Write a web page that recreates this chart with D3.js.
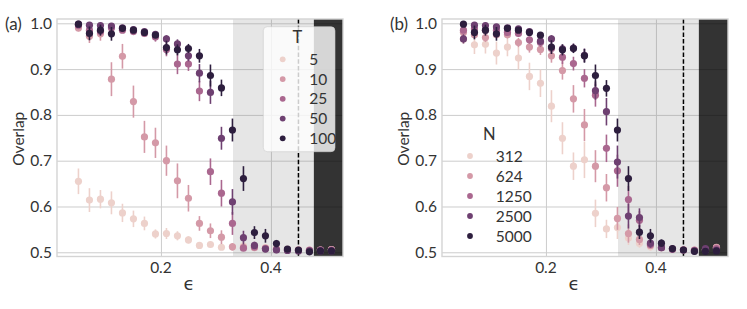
<!DOCTYPE html>
<html>
<head>
<meta charset="utf-8">
<script src="https://cdn.jsdelivr.net/npm/d3@7"></script>
<style>
  body { margin: 0; background: #fff; }
  text { font-family: Lato, "Open Sans", sans-serif; fill: #333333; }
</style>
</head>
<body>
<div id="chart"></div>
<script>
// epsilon values on the x axis
const eps = [0.05, 0.07, 0.09, 0.11, 0.13, 0.15, 0.17, 0.19, 0.21, 0.23, 0.25, 0.27,
             0.29, 0.31, 0.33, 0.35, 0.37, 0.39, 0.41, 0.43, 0.45, 0.47, 0.49, 0.51];

const tLabels = ['5', '10', '25', '50', '100'];
const nLabels = ['312', '624', '1250', '2500', '5000'];
const palette = ['#edd1cb', '#d499a7', '#aa678f', '#6e4071', '#2d1e3e'];

const yTicks = [0.5, 0.6, 0.7, 0.8, 0.9, 1.0];
const xTicks = [0.2, 0.4];

// shaded regions and the dashed marker
const lightStart = 0.331, darkStart = 0.478, dashAt = 0.45;

// panel (a): overlap for several T
const t5 = [0.655, 0.614, 0.616, 0.608, 0.586, 0.573, 0.563, 0.540, 0.541, 0.536, 0.527, 0.515,
            0.517, 0.511, 0.512, 0.514, 0.512, 0.510, 0.508, 0.507, 0.506, 0.505, 0.505, 0.506];
const t5Err = [0.028, 0.026, 0.02, 0.025, 0.02, 0.018, 0.015, 0.01, 0.012, 0.01, 0.008, 0.006,
               0.006, 0.005, 0.005, 0.005, 0.004, 0.004, 0.004, 0.003, 0.003, 0.003, 0.003, 0.003];
const t10 = [0.99, 0.972, 0.977, 0.878, 0.928, 0.829, 0.752, 0.739, 0.700, 0.656, 0.618, 0.563,
             0.547, 0.533, 0.512, 0.511, 0.510, 0.509, 0.507, 0.506, 0.505, 0.505, 0.505, 0.506];
const t10Err = [0.008, 0.015, 0.015, 0.037, 0.027, 0.035, 0.035, 0.033, 0.033, 0.038, 0.029, 0.016,
                0.016, 0.015, 0.008, 0.006, 0.005, 0.005, 0.004, 0.004, 0.003, 0.003, 0.003, 0.003];
const t25 = [0.995, 0.985, 0.982, 0.99, 0.985, 0.982, 0.978, 0.970, 0.943, 0.911, 0.911, 0.852,
             0.676, 0.629, 0.563, 0.509, 0.512, 0.508, 0.506, 0.505, 0.504, 0.504, 0.505, 0.505];
const t25Err = [0.004, 0.006, 0.006, 0.005, 0.006, 0.006, 0.008, 0.01, 0.015, 0.022, 0.015, 0.022,
                0.029, 0.029, 0.025, 0.006, 0.005, 0.004, 0.003, 0.003, 0.003, 0.003, 0.003, 0.003];
const t50 = [0.998, 0.996, 0.995, 0.994, 0.990, 0.986, 0.982, 0.976, 0.966, 0.955, 0.929, 0.891,
             0.849, 0.749, 0.610, 0.532, 0.515, 0.507, 0.505, 0.504, 0.503, 0.503, 0.503, 0.503];
const t50Err = [0.003, 0.004, 0.004, 0.005, 0.005, 0.005, 0.005, 0.006, 0.008, 0.01, 0.012, 0.02,
                0.025, 0.025, 0.028, 0.015, 0.008, 0.005, 0.004, 0.003, 0.003, 0.003, 0.003, 0.003];
const t100 = [0.998, 0.978, 0.985, 0.977, 0.989, 0.985, 0.980, 0.974, 0.947, 0.942, 0.945, 0.929,
              0.886, 0.859, 0.767, 0.661, 0.543, 0.536, 0.519, 0.507, 0.505, 0.501, 0.503, 0.503];
const t100Err = [0.003, 0.015, 0.012, 0.015, 0.004, 0.004, 0.005, 0.006, 0.015, 0.012, 0.01, 0.015,
                 0.024, 0.018, 0.025, 0.027, 0.014, 0.015, 0.008, 0.005, 0.004, 0.003, 0.003, 0.003];

// panel (b): overlap for several N
const n312 = [0.965, 0.953, 0.954, 0.935, 0.948, 0.924, 0.884, 0.869, 0.819, 0.749, 0.688, 0.702,
              0.585, 0.551, 0.554, 0.531, 0.520, 0.512, 0.510, 0.507, 0.506, 0.505, 0.505, 0.510];
const n312Err = [0.01, 0.02, 0.02, 0.025, 0.02, 0.025, 0.03, 0.03, 0.035, 0.035, 0.03, 0.04,
                 0.03, 0.02, 0.025, 0.015, 0.01, 0.008, 0.006, 0.005, 0.004, 0.004, 0.004, 0.004];
const n624 = [0.980, 0.975, 0.969, 0.975, 0.975, 0.958, 0.948, 0.943, 0.929, 0.897, 0.835, 0.778,
              0.688, 0.641, 0.574, 0.541, 0.528, 0.515, 0.510, 0.507, 0.505, 0.505, 0.506, 0.511];
const n624Err = [0.008, 0.008, 0.01, 0.008, 0.008, 0.01, 0.012, 0.012, 0.015, 0.02, 0.03, 0.035,
                 0.035, 0.03, 0.025, 0.02, 0.012, 0.008, 0.006, 0.005, 0.004, 0.004, 0.004, 0.004];
const n1250 = [0.985, 0.988, 0.985, 0.985, 0.980, 0.978, 0.964, 0.958, 0.945, 0.926, 0.912, 0.880,
               0.843, 0.727, 0.678, 0.615, 0.570, 0.517, 0.510, 0.507, 0.505, 0.504, 0.505, 0.508];
const n1250Err = [0.005, 0.005, 0.006, 0.006, 0.006, 0.008, 0.008, 0.01, 0.012, 0.015, 0.015, 0.02,
                  0.025, 0.03, 0.035, 0.03, 0.02, 0.008, 0.006, 0.005, 0.004, 0.004, 0.004, 0.004];
const n2500 = [0.966, 0.996, 0.995, 0.992, 0.990, 0.988, 0.982, 0.961, 0.966, 0.944, 0.946, 0.930,
               0.853, 0.807, 0.697, 0.579, 0.576, 0.520, 0.510, 0.507, 0.505, 0.503, 0.508, 0.505];
const n2500Err = [0.01, 0.004, 0.004, 0.005, 0.005, 0.005, 0.006, 0.008, 0.008, 0.01, 0.01, 0.015,
                  0.02, 0.03, 0.036, 0.027, 0.02, 0.01, 0.006, 0.005, 0.004, 0.004, 0.004, 0.004];
const n5000 = [0.998, 0.980, 0.985, 0.977, 0.989, 0.985, 0.980, 0.974, 0.948, 0.942, 0.945, 0.929,
               0.886, 0.858, 0.767, 0.661, 0.544, 0.536, 0.520, 0.508, 0.505, 0.502, 0.502, 0.503];
const n5000Err = [0.003, 0.015, 0.012, 0.015, 0.004, 0.004, 0.005, 0.006, 0.015, 0.012, 0.01, 0.015,
                  0.024, 0.018, 0.025, 0.027, 0.015, 0.015, 0.008, 0.005, 0.004, 0.003, 0.003, 0.003];

const width = 286, height = 237.5, panelTop = 19;

const svg = d3.select('#chart')
              .append('svg')
              .attr('width', 747)
              .attr('height', 309);

const xScale = d3.scaleLinear()
                 .domain([0.011, 0.531])
                 .range([0, width]);

const yScale = d3.scaleLinear()
                 .domain([0.4908, 1.0094])
                 .range([height, 0]);

function drawPanel(left, tag, series, errs, labels, title, legend) {
    const g = svg.append('g')
                 .attr('transform', `translate(${left}, ${panelTop})`);

    // grid
    g.append('g')
     .call(d3.axisBottom(xScale).tickValues(xTicks).tickSize(height).tickFormat(''))
     .call(a => a.select('.domain').remove())
     .selectAll('line').attr('stroke', '#cccccc');
    g.append('g')
     .call(d3.axisLeft(yScale).tickValues(yTicks).tickSize(-width).tickFormat(''))
     .call(a => a.select('.domain').remove())
     .selectAll('line').attr('stroke', '#cccccc');

    // shaded regions
    g.append('rect')
     .attr('x', xScale(lightStart))
     .attr('width', xScale(darkStart) - xScale(lightStart))
     .attr('y', 0).attr('height', height)
     .attr('fill', 'gray').attr('opacity', 0.2);
    g.append('rect')
     .attr('x', xScale(darkStart))
     .attr('width', width - xScale(darkStart))
     .attr('y', 0).attr('height', height)
     .attr('fill', 'black').attr('opacity', 0.8);

    g.append('line')
     .attr('x1', xScale(dashAt)).attr('x2', xScale(dashAt))
     .attr('y1', 0).attr('y2', height)
     .attr('stroke', 'black')
     .attr('stroke-width', 1.5)
     .attr('stroke-dasharray', '4.5,2.2');

    // frame
    g.append('rect')
     .attr('width', width).attr('height', height)
     .attr('fill', 'none')
     .attr('stroke', '#d4d4d4')
     .attr('stroke-width', 1.4);

    series.forEach((vals, s) => {
        const pts = eps.map((e, i) => ({e: e, v: vals[i], err: errs[s][i]}));
        const sg = g.append('g');
        sg.selectAll('line')
          .data(pts)
          .enter()
          .append('line')
          .attr('x1', d => xScale(d.e)).attr('x2', d => xScale(d.e))
          .attr('y1', d => yScale(d.v - d.err))
          .attr('y2', d => yScale(d.v + d.err))
          .attr('stroke', palette[s])
          .attr('stroke-width', 1.6);
        sg.selectAll('circle')
          .data(pts)
          .enter()
          .append('circle')
          .attr('cx', d => xScale(d.e))
          .attr('cy', d => yScale(d.v))
          .attr('r', 3.6)
          .attr('fill', palette[s]);
    });

    // tick labels
    g.selectAll('.ytl')
     .data(yTicks)
     .enter()
     .append('text')
     .attr('x', -5)
     .attr('y', d => yScale(d))
     .attr('dy', '0.36em')
     .attr('text-anchor', 'end')
     .style('font-size', '15.5px')
     .text(d => d3.format('.1f')(d));
    g.selectAll('.xtl')
     .data(xTicks)
     .enter()
     .append('text')
     .attr('x', d => xScale(d))
     .attr('y', height + 16.5)
     .attr('text-anchor', 'middle')
     .style('font-size', '15.5px')
     .text(d => d3.format('.1f')(d));

    g.append('text')
     .attr('x', width / 2 - 11)
     .attr('y', height + 33)
     .attr('text-anchor', 'middle')
     .style('font-family', 'DejaVu Sans')
     .style('font-size', '18px')
     .text('\u03f5');

    g.append('text')
     .attr('transform', `translate(-33, ${height / 2 + 1}) rotate(-90)`)
     .attr('text-anchor', 'middle')
     .style('font-size', '15.5px')
     .text('Overlap');

    g.append('text')
     .attr('x', -52)
     .attr('y', 10.5)
     .style('font-size', '17px')
     .text(tag);

    // legend
    const lg = g.append('g')
                .attr('transform', `translate(${legend.x}, ${legend.y})`);
    if (legend.box) {
        lg.append('rect')
          .attr('x', 0).attr('y', 0)
          .attr('width', legend.w).attr('height', legend.h)
          .attr('rx', 4)
          .attr('fill', 'white').attr('fill-opacity', 0.8)
          .attr('stroke', '#cccccc').attr('stroke-opacity', 0.6);
    }
    lg.append('text')
      .attr('x', legend.titleX)
      .attr('y', legend.titleY)
      .attr('text-anchor', 'middle')
      .style('font-size', '16.5px')
      .text(title);
    lg.selectAll('circle')
      .data(labels)
      .enter()
      .append('circle')
      .attr('cx', legend.markX)
      .attr('cy', (d, i) => legend.rowY + i * legend.step)
      .attr('r', 2.9)
      .attr('fill', (d, i) => palette[i]);
    lg.selectAll('.lbl')
      .data(labels)
      .enter()
      .append('text')
      .attr('x', legend.textX)
      .attr('y', (d, i) => legend.rowY + i * legend.step)
      .attr('dy', '0.36em')
      .style('font-size', '15.5px')
      .text(d => d);
}

drawPanel(57, '(a)',
          [t5, t10, t25, t50, t100],
          [t5Err, t10Err, t25Err, t50Err, t100Err],
          tLabels, 'T',
          {box: true, x: 206.3, y: 7.7, w: 71.7, h: 125,
           titleX: 34, titleY: 16.6, markX: 19.4, textX: 46, rowY: 32.6, step: 19.75});

drawPanel(442, '(b)',
          [n312, n624, n1250, n2500, n5000],
          [n312Err, n624Err, n1250Err, n2500Err, n5000Err],
          nLabels, 'N',
          {box: false, x: 0, y: 0,
           titleX: 47.3, titleY: 121, markX: 28, textX: 53.7, rowY: 137, step: 20});
</script>
</body>
</html>
